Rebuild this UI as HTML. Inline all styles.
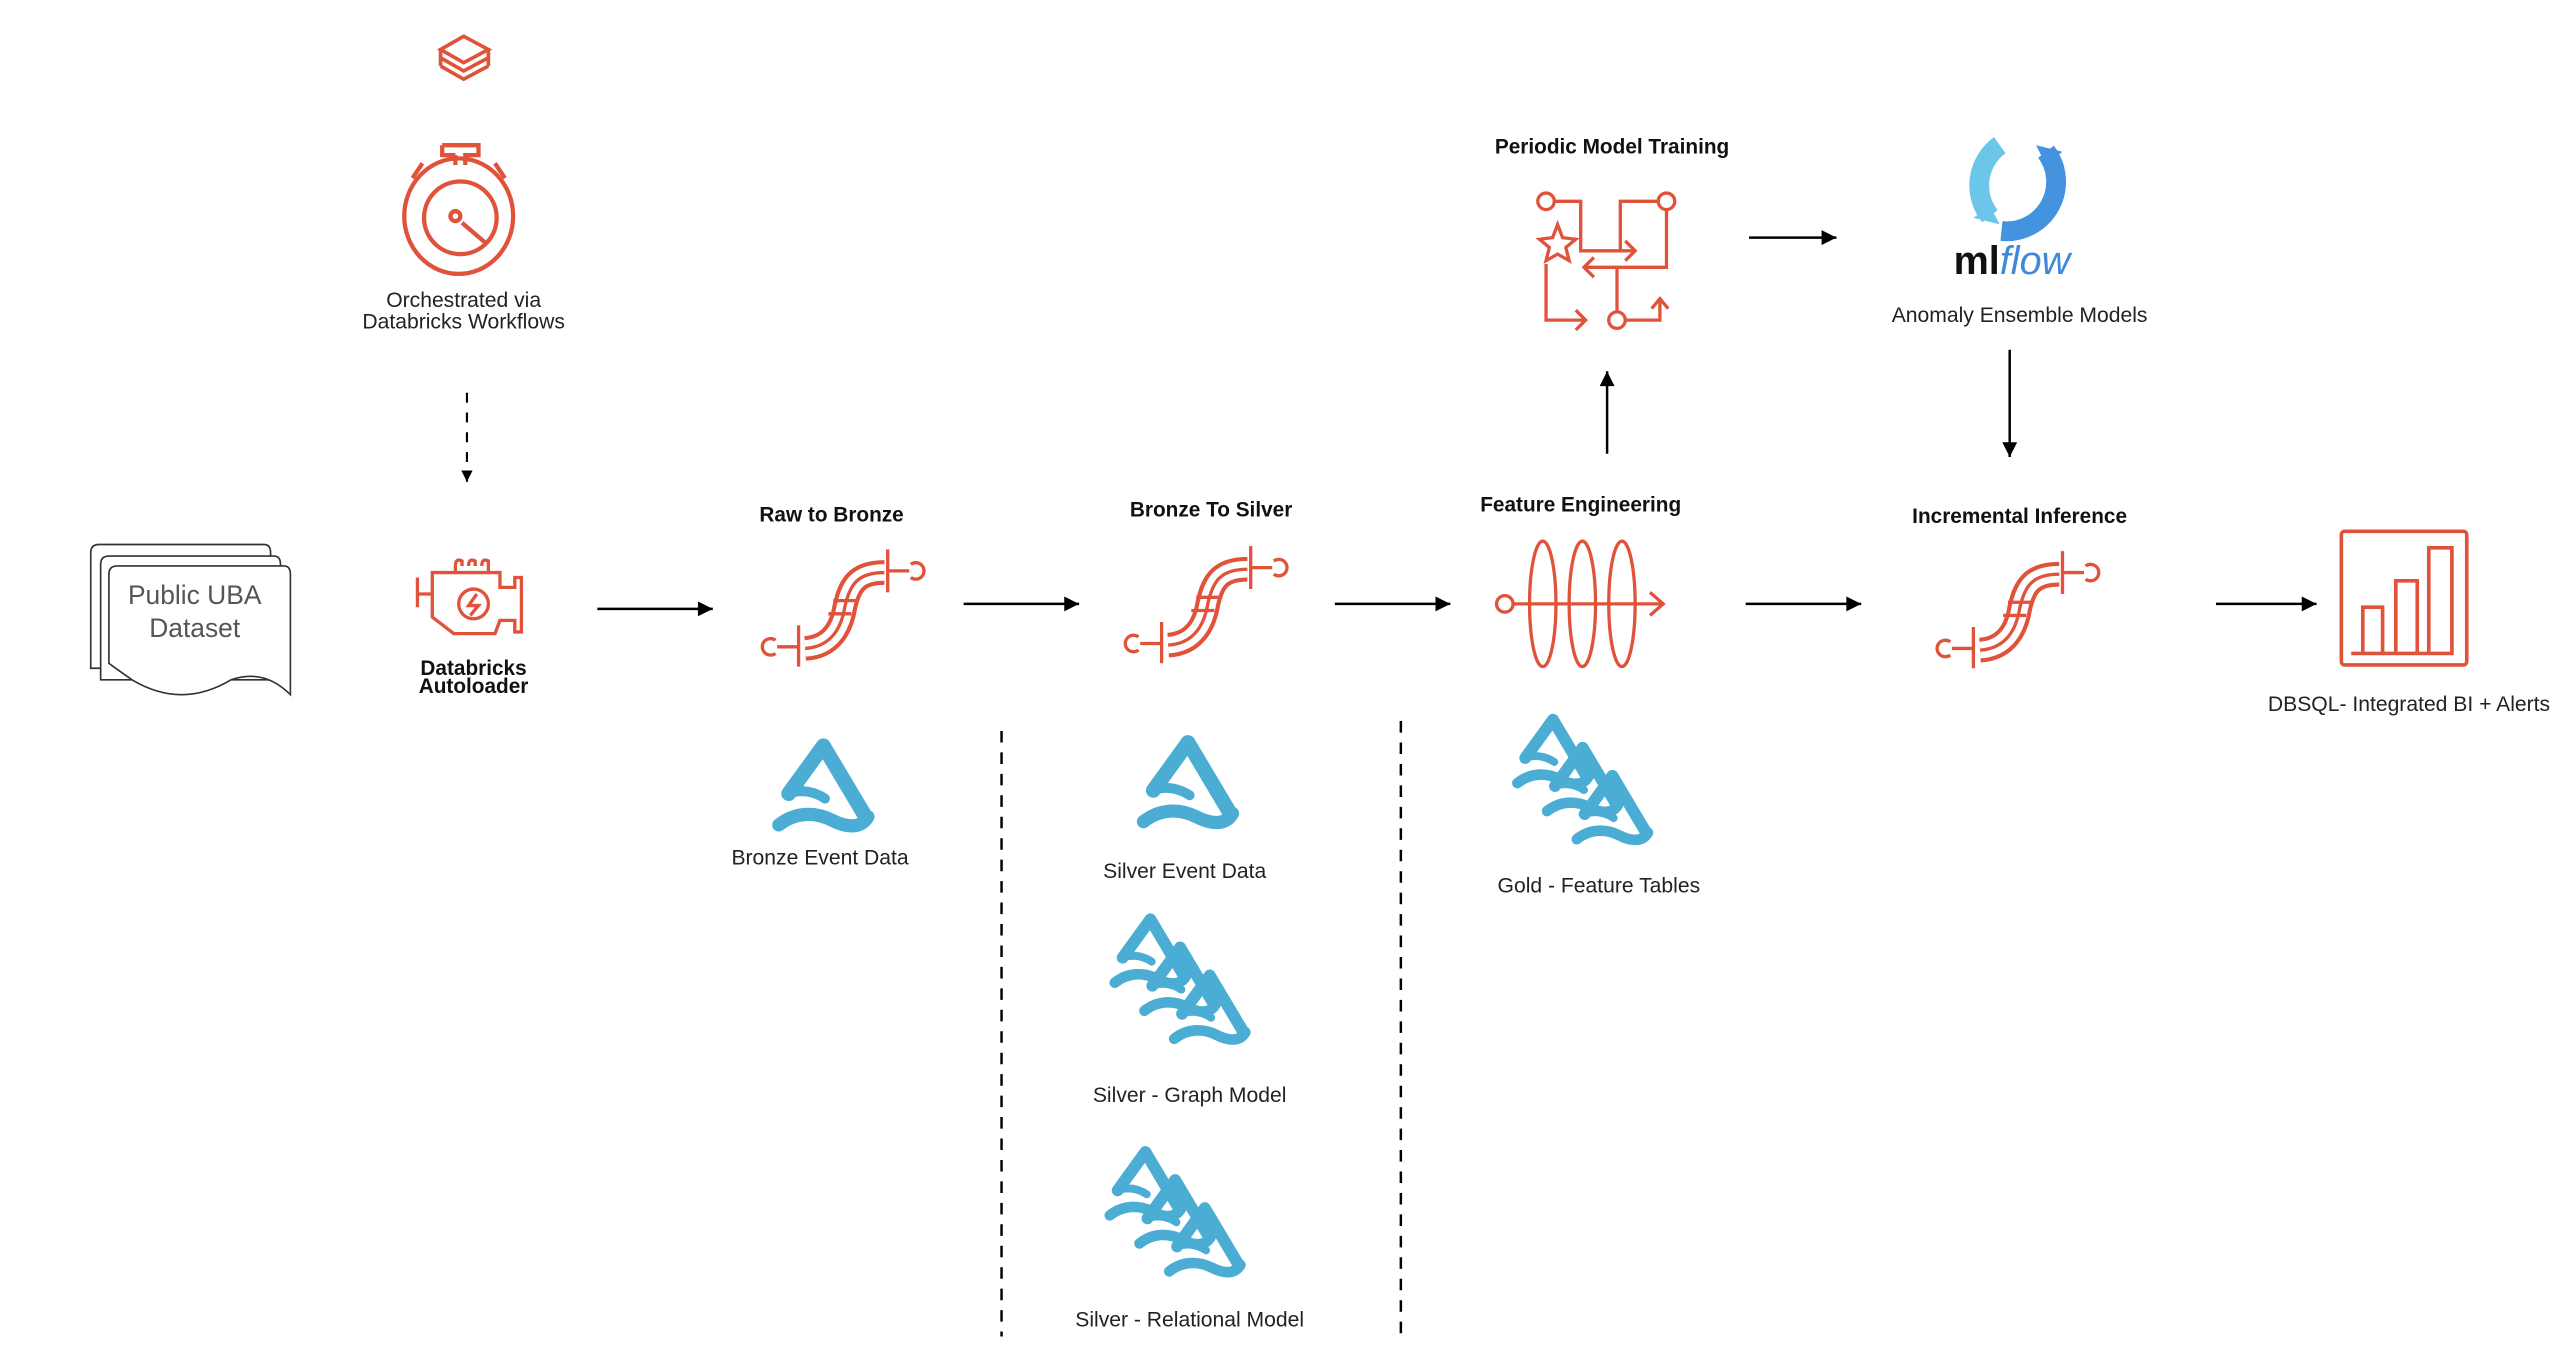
<!DOCTYPE html>
<html><head><meta charset="utf-8"><style>
html,body{margin:0;padding:0;background:#fff;}
svg{display:block;}
text{font-family:"Liberation Sans",Arial,sans-serif;fill:#222;}
.b{font-weight:bold;font-size:12.6px;fill:#111;}
.n{font-size:12.8px;fill:#222;}
</style></head><body>
<svg width="2574" height="1360" viewBox="0 0 1560 824.24" preserveAspectRatio="none" xmlns="http://www.w3.org/2000/svg">
<defs>
<marker id="ah" viewBox="0 0 10 10" refX="10" refY="5" markerWidth="7" markerHeight="9" orient="auto" markerUnits="userSpaceOnUse">
<path d="M0,0 L10,5 L0,10 z" fill="#000"/></marker>
<marker id="ah2" viewBox="0 0 10 10" refX="10" refY="5" markerWidth="12" markerHeight="9" orient="auto" markerUnits="userSpaceOnUse">
<path d="M0,0 L10,5 L0,10 z" fill="#000"/></marker>
<g id="pipe" fill="none" stroke-linecap="butt">
<path d="M36,61 C52,60 58,48 60,36 C63,22 68,15 84,15" stroke="#e0523a" stroke-width="15"/>
<path d="M36,61 C52,60 58,48 60,36 C63,22 68,15 84,15" stroke="#fff" stroke-width="10"/>
<path d="M36,61 C52,60 58,48 60,36 C63,22 68,15 84,15" stroke="#e0523a" stroke-width="2"/>
<path d="M32,47 V72 M86,1 V27 M19,60 H32 M86,14 H99" stroke="#e0523a" stroke-width="2"/>
<path d="M18,64 A5,5 0 1 1 18,56" stroke="#e0523a" stroke-width="2"/>
<path d="M100,10 A5,5 0 1 1 100,18" stroke="#e0523a" stroke-width="2"/>
<path d="M53,32 H67 M50,40 H64" stroke="#e0523a" stroke-width="2"/>
</g>
<g id="delta" fill="none" stroke="#4badd3" stroke-linejoin="round" stroke-linecap="round">
<path d="M8,33 L29,4 L54,46" stroke-width="9"/>
<path d="M8,33 C16,30 24,32 30,36" stroke-width="6"/>
<path d="M2,52 C12,44 24,44 34,49 C44,54 52,54 56,47" stroke-width="8"/>
</g>
<g id="delta3">
<use href="#delta" transform="scale(0.8)"/>
<use href="#delta" transform="translate(18,17) scale(0.8)"/>
<use href="#delta" transform="translate(36,34) scale(0.8)"/>
</g>
</defs>

<!-- databricks logo -->
<g fill="none" stroke="#e0523a" stroke-width="2.2" stroke-linejoin="miter">
<path d="M267,30 L281,22 L296,30 L281,38 Z"/>
<path d="M267,35 L281,43 L296,35"/>
<path d="M267,40 L281,48 L296,40"/>
<path d="M267,30 V40 M296,30 V40"/>
</g>
<!-- stopwatch -->
<g fill="none" stroke="#e0523a" stroke-width="2.6">
<ellipse cx="278" cy="131" rx="33" ry="35"/>
<ellipse cx="279" cy="132" rx="22" ry="22"/>
<path d="M268,88 H290 V94 H282 V100 M276,94 H268 V88 M276,94 V100"/>
<path d="M250,108 L256,99 M306,108 L300,99"/>
<path d="M280,135 L294,147"/>
<circle cx="276" cy="131" r="3"/>
</g>
<text class="n" x="281" y="186" text-anchor="middle">Orchestrated via</text>
<text class="n" x="281" y="199" text-anchor="middle">Databricks Workflows</text>
<line x1="283" y1="238" x2="283" y2="292" stroke="#000" stroke-width="1.3" stroke-dasharray="6,6" marker-end="url(#ah)"/>

<!-- document stack -->
<g fill="#fff" stroke="#333" stroke-width="1">
<path d="M55,335 Q55,330 60,330 H160 Q164,330 164,335 V405 H55 Z"/>
<path d="M61,342 Q61,337 66,337 H166 Q170,337 170,342 V412 H61 Z"/>
<path d="M66,348 Q66,343 71,343 H172 Q176,343 176,348 V421 Q160,405 140,412 Q110,430 80,412 Q70,405 66,402 Z"/>
</g>
<text x="118" y="366" text-anchor="middle" style="font-size:16px;fill:#555">Public UBA</text>
<text x="118" y="386" text-anchor="middle" style="font-size:16px;fill:#555">Dataset</text>

<!-- engine -->
<g fill="none" stroke="#e0523a" stroke-width="2">
<path d="M253,350 V368 M253,360 H262 M262,352 V374 L275,384 H300 L303,376 H312 V383 H316 V350 H312 V356 H303 V347 H262 V352"/>
<path d="M276,347 V343 Q276,338 280,340 V343 M284,343 Q284,338 288,340 V343 M292,343 Q292,338 296,340 V347"/>
<circle cx="287" cy="366" r="9"/>
<path d="M289,360 L284,367 H290 L285,373"/>
</g>
<text class="b" x="287" y="409" text-anchor="middle">Databricks</text>
<text class="b" x="287" y="420" text-anchor="middle">Autoloader</text>

<!-- arrows -->
<g stroke="#000" stroke-width="1.5">
<line x1="362" y1="369" x2="432" y2="369" marker-end="url(#ah2)"/>
<line x1="584" y1="366" x2="654" y2="366" marker-end="url(#ah2)"/>
<line x1="809" y1="366" x2="879" y2="366" marker-end="url(#ah2)"/>
<line x1="1058" y1="366" x2="1128" y2="366" marker-end="url(#ah2)"/>
<line x1="1343" y1="366" x2="1404" y2="366" marker-end="url(#ah2)"/>
<line x1="974" y1="275" x2="974" y2="225" marker-end="url(#ah2)"/>
<line x1="1060" y1="144" x2="1113" y2="144" marker-end="url(#ah2)"/>
<line x1="1218" y1="212" x2="1218" y2="277" marker-end="url(#ah2)"/>
</g>
<g stroke="#000" stroke-width="1.5" stroke-dasharray="7,6">
<line x1="607" y1="443" x2="607" y2="810"/>
<line x1="849" y1="437" x2="849" y2="812"/>
</g>

<text class="b" x="504" y="316" text-anchor="middle">Raw to Bronze</text>
<use href="#pipe" x="452" y="332"/>
<text class="b" x="734" y="313" text-anchor="middle">Bronze To Silver</text>
<use href="#pipe" x="672" y="330"/>
<text class="b" x="958" y="310" text-anchor="middle">Feature Engineering</text>
<text class="b" x="1224" y="317" text-anchor="middle">Incremental Inference</text>
<use href="#pipe" x="1164" y="333"/>

<!-- spring -->
<g fill="none" stroke="#e0523a" stroke-width="2">
<ellipse cx="935" cy="366" rx="8" ry="38"/>
<ellipse cx="959" cy="366" rx="8" ry="38"/>
<ellipse cx="983" cy="366" rx="8" ry="38"/>
<circle cx="912" cy="366" r="5"/>
<path d="M917,366 H1008 M1000,359 L1008,366 L1000,373"/>
</g>

<!-- periodic training -->
<text class="b" x="977" y="93" text-anchor="middle">Periodic Model Training</text>
<g fill="none" stroke="#e0523a" stroke-width="2">
<circle cx="937" cy="122" r="5"/>
<circle cx="1010" cy="122" r="5"/>
<circle cx="980" cy="194" r="5"/>
<path d="M942,122 H958 V152 H990 M985,146 L991,152 L985,158"/>
<path d="M1005,122 H982 V152"/>
<path d="M1010,127 V162 H960 M966,156 L960,162 L966,168"/>
<path d="M980,162 V189"/>
<path d="M937,160 V194 H961 M955,188 L961,194 L955,200"/>
<path d="M985,194 H1006 V182 M1001,187 L1006,181 L1011,187"/>
<path d="M944,136 L947,144 L955,145 L949,150 L951,158 L944,154 L937,158 L939,150 L933,145 L941,144 Z"/>
</g>

<!-- mlflow -->
<path d="M1212,88 A30,30 0 0 0 1206,131" fill="none" stroke="#6bc6ea" stroke-width="12"/>
<path d="M1240,92 A30,30 0 0 1 1213,140" fill="none" stroke="#4393de" stroke-width="12"/>
<path d="M1206,125 L1196,132 L1212,136 Z" fill="#6bc6ea"/>
<path d="M1240,100 L1250,92 L1234,88 Z" fill="#4393de"/>
<text x="1184" y="166" style="font-size:24px;font-weight:bold;fill:#111">ml</text>
<text x="1212" y="166" style="font-size:24px;font-style:italic;fill:#3e8ad9">flow</text>
<text class="n" x="1224" y="195" text-anchor="middle">Anomaly Ensemble Models</text>

<!-- chart -->
<g fill="none" stroke="#e0523a" stroke-width="2.2">
<rect x="1419" y="322" width="76" height="81" rx="2"/>
<path d="M1432,396 V368 H1444 V396 H1452 V352 H1465 V396 H1472 V332 H1486 V396 H1425"/>
</g>
<text class="n" x="1460" y="431" text-anchor="middle">DBSQL- Integrated BI  + Alerts</text>

<!-- deltas -->
<use href="#delta" x="470" y="448"/>
<text class="n" x="497" y="524" text-anchor="middle">Bronze Event Data</text>
<use href="#delta" x="691" y="446"/>
<text class="n" x="718" y="532" text-anchor="middle">Silver Event Data</text>
<use href="#delta3" x="674" y="554"/>
<text class="n" x="721" y="668" text-anchor="middle">Silver - Graph Model</text>
<use href="#delta3" x="671" y="695"/>
<text class="n" x="721" y="804" text-anchor="middle">Silver - Relational Model</text>
<use href="#delta3" x="918" y="433"/>
<text class="n" x="969" y="541" text-anchor="middle">Gold - Feature Tables</text>
</svg>
</body></html>
